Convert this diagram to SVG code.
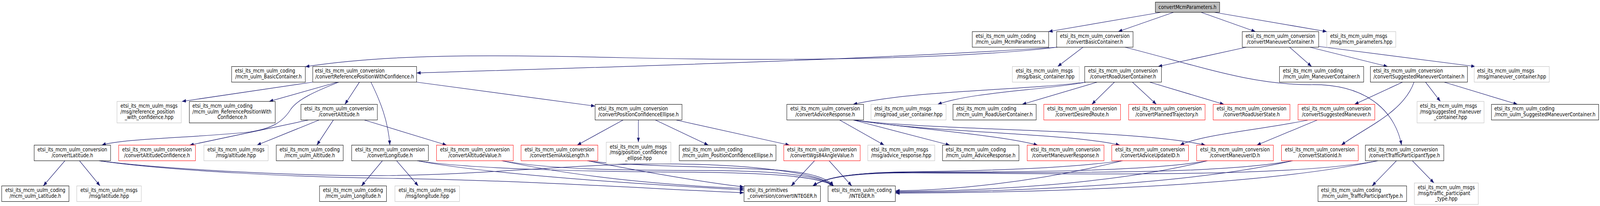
<svg xmlns="http://www.w3.org/2000/svg" width="4732" height="528" viewBox="0 0 4732 528" preserveAspectRatio="none">
<style>
svg{width:100vw;height:100vh}
rect{fill:#fff;stroke:#000;stroke-width:1.1}
.g rect{stroke:#bfbfbf}
.r rect{stroke:#ff0000}
.top rect{fill:#bfbfbf}
text{font-family:"DejaVu Sans","Liberation Sans",sans-serif;font-size:13.33px;fill:#000}
.m{text-anchor:middle}
.e path{fill:none;stroke:#191970;stroke-width:1.25;marker-end:url(#a)}
</style>
<defs>
<marker id="a" viewBox="0 0 12 9" refX="12" refY="4.5" markerWidth="12" markerHeight="9" orient="auto" markerUnits="userSpaceOnUse"><path d="M0,0L12,4.5L0,9z" fill="#191970"/></marker>
</defs>
<g id="connectors" class="e">
<path d="M3434,31.5 L3101,81"/>
<path d="M3471,31.5 L3307,81"/>
<path d="M3552,31.5 L3713,81"/>
<path d="M3591,31.5 L3924,81"/>
<path d="M3127,121 C2850,150 2350,158 1850,148 C1450,140 1150,138 903,171"/>
<path d="M3127,121 C2600,152 1800,172 1232,187"/>
<path d="M3203,121 L3128,170.5"/>
<path d="M3327,121 C3550,170 3700,218 3880,217 C4060,216 4130,300 4145,372"/>
<path d="M3686,121 L3425,170.5"/>
<path d="M3814,121 L3879,170.5"/>
<path d="M3874,121 L4104,170.5"/>
<path d="M3900,119 L4363,170.5"/>
<path d="M3212,210.5 C3020,232 2700,232 2523,267.5"/>
<path d="M3212,210.5 C3080,232 2880,235 2773,267.5"/>
<path d="M3245,210.5 L3023,267.5"/>
<path d="M3296,210.5 L3229,267.5"/>
<path d="M3349,210.5 L3420,267.5"/>
<path d="M3400,210.5 L3620,267.5"/>
<path d="M4148,210.5 L4006,267.5"/>
<path d="M4182,210.5 C4150,290 4030,330 3967,372"/>
<path d="M4216,210.5 L4260,260"/>
<path d="M4271,210.5 L4488,267.5"/>
<path d="M925,210.5 L538,260"/>
<path d="M998,210.5 L796,260"/>
<path d="M1002,210.5 C930,235 880,255 860,280 C835,315 800,330 740,338 C600,352 360,355 301,372"/>
<path d="M1063,210.5 L1020,267.5"/>
<path d="M1097,210.5 C1125,260 1148,310 1153,372"/>
<path d="M1232,210.5 L1760,272"/>
<path d="M913,307.5 L561,372"/>
<path d="M944,307.5 L760,372"/>
<path d="M986,307.5 L937,372"/>
<path d="M1077,307.5 L1321,372"/>
<path d="M1843,307.5 L1707,372"/>
<path d="M1888,307.5 L1888,364.5"/>
<path d="M1938,307.5 L2095,372"/>
<path d="M1999,307.5 L2335,372"/>
<path d="M2483,307.5 L2615,372"/>
<path d="M2523,307.5 L2809,372"/>
<path d="M2525,307.5 C2700,330 2950,345 3069,372"/>
<path d="M2525,307.5 C2750,340 3150,340 3312,372"/>
<path d="M2525,307.5 C2750,335 3350,330 3565,372"/>
<path d="M3869,307.5 C3750,330 3550,345 3490,372"/>
<path d="M3896,307.5 L3717,372"/>
<path d="M192,412 L128,476.5"/>
<path d="M235,412 L296,476.5"/>
<path d="M1131,412 L1069,476.5"/>
<path d="M1173,412 L1237,476.5"/>
<path d="M4130,412 L4058,476.5"/>
<path d="M4177,412 L4241,469"/>
<path d="M2409,412 L2340,476.5"/>
<path d="M2452,412 L2519,476.5"/>
<path d="M293,412 C500,435 900,452 1150,450 C1450,447 1700,420 1950,420 C2200,420 2420,440 2465,476.5"/>
<path d="M293,412 C500,438 900,455 1150,457 C1600,463 2000,488 2200,494"/>
<path d="M1234,412 C1400,435 1800,440 2000,441 C2250,442 2420,450 2465,476.5"/>
<path d="M1234,412 C1450,448 1900,472 2200,487"/>
<path d="M1484,412 C1650,438 1900,436 2100,437 C2300,438 2430,450 2465,476.5"/>
<path d="M1484,412 C1700,452 1950,474 2200,483"/>
<path d="M1737,412 C1850,426 2100,426 2300,436 C2400,442 2450,458 2465,476.5"/>
<path d="M1737,412 C1900,440 2100,470 2200,479"/>
<path d="M3320,412 C3150,432 2900,438 2700,440 C2520,442 2440,455 2404,476.5"/>
<path d="M3571,412 C3400,440 3000,441 2700,441 C2520,441 2440,455 2404,476.5"/>
<path d="M3823,412 C3600,448 3100,442 2700,442 C2520,442 2440,455 2404,476.5"/>
<path d="M4075,412 C3800,458 3100,444 2700,443 C2520,443 2440,455 2404,476.5"/>
<path d="M3320,412 C3050,470 2800,488 2649,489"/>
<path d="M3571,412 C3300,472 2900,490 2649,491"/>
<path d="M3823,412 C3500,476 2950,492 2649,493"/>
<path d="M4075,412 C3700,482 3000,494 2649,495"/>
</g>
<g id="convertMcmParameters" class="top"><rect x="3417" y="5.5" width="190" height="26"/><text class="m" x="3512" y="23.2">convertMcmParameters.h</text></g>
<g id="coding_McmParameters"><rect x="2875.5" y="81" width="226" height="40"/><text x="2885.5" y="97">etsi_its_mcm_uulm_coding</text><text class="m" x="2988.5" y="111.7">/mcm_uulm_McmParameters.h</text></g>
<g id="convertBasicContainer"><rect x="3125" y="81" width="226" height="40"/><text x="3134.9" y="97">etsi_its_mcm_uulm_conversion</text><text class="m" x="3238" y="111.7">/convertBasicContainer.h</text></g>
<g id="convertManeuverContainer"><rect x="3674" y="81" width="226" height="40"/><text x="3683.9" y="97">etsi_its_mcm_uulm_conversion</text><text class="m" x="3787" y="111.7">/convertManeuverContainer.h</text></g>
<g id="msgs_mcm_parameters" class="g"><rect x="3924" y="81" width="204" height="40"/><text x="3934" y="97">etsi_its_mcm_uulm_msgs</text><text class="m" x="4026" y="111.7">/msg/mcm_parameters.hpp</text></g>
<g id="coding_BasicContainer"><rect x="685" y="170.5" width="218" height="40"/><text x="695" y="186.5">etsi_its_mcm_uulm_coding</text><text class="m" x="794" y="201.2">/mcm_uulm_BasicContainer.h</text></g>
<g id="convertReferencePositionWithConfidence"><rect x="925" y="170.5" width="307" height="40"/><text x="931.5" y="186.5">etsi_its_mcm_uulm_conversion</text><text class="m" x="1078.5" y="201.2">/convertReferencePositionWithConfidence.h</text></g>
<g id="msgs_basic_container" class="g"><rect x="2994" y="170.5" width="198" height="40"/><text x="3004" y="186.5">etsi_its_mcm_uulm_msgs</text><text class="m" x="3093" y="201.2">/msg/basic_container.hpp</text></g>
<g id="convertRoadUserContainer"><rect x="3208" y="170.5" width="227" height="40"/><text x="3218.4" y="186.5">etsi_its_mcm_uulm_conversion</text><text class="m" x="3321.5" y="201.2">/convertRoadUserContainer.h</text></g>
<g id="coding_ManeuverContainer"><rect x="3784" y="170.5" width="249" height="40"/><text x="3794" y="186.5">etsi_its_mcm_uulm_coding</text><text class="m" x="3908.5" y="201.2">/mcm_uulm_ManeuverContainer.h</text></g>
<g id="convertSuggestedManeuverContainer"><rect x="4053" y="170.5" width="287" height="40"/><text x="4061.5" y="186.5">etsi_its_mcm_uulm_conversion</text><text class="m" x="4196.5" y="201.2">/convertSuggestedManeuverContainer.h</text></g>
<g id="msgs_maneuver_container" class="g"><rect x="4360" y="170.5" width="222" height="40"/><text x="4368.6" y="186.5">etsi_its_mcm_uulm_msgs</text><text class="m" x="4471" y="201.2">/msg/maneuver_container.hpp</text></g>
<g id="msgs_reference_position_with_confidence" class="g"><rect x="346" y="260" width="190" height="55"/><text x="356.5" y="276.2">etsi_its_mcm_uulm_msgs</text><text x="356.5" y="290.8">/msg/reference_position</text><text class="m" x="441" y="305.5">_with_confidence.hpp</text></g>
<g id="coding_ReferencePositionWithConfidence"><rect x="560" y="260" width="254" height="55"/><text x="569.1" y="276.2">etsi_its_mcm_uulm_coding</text><text x="569.1" y="290.8">/mcm_uulm_ReferencePositionWith</text><text class="m" x="687" y="305.5">Confidence.h</text></g>
<g id="convertAltitude"><rect x="890" y="267.5" width="226" height="40"/><text x="899.9" y="283.5">etsi_its_mcm_uulm_conversion</text><text class="m" x="1003" y="298.2">/convertAltitude.h</text></g>
<g id="convertPositionConfidenceEllipse"><rect x="1760" y="267.5" width="257" height="40"/><text x="1769.3" y="283.5">etsi_its_mcm_uulm_conversion</text><text class="m" x="1888.5" y="298.2">/convertPositionConfidenceEllipse.h</text></g>
<g id="convertAdviceResponse"><rect x="2327" y="267.5" width="227" height="40"/><text x="2337.4" y="283.5">etsi_its_mcm_uulm_conversion</text><text class="m" x="2440.5" y="298.2">/convertAdviceResponse.h</text></g>
<g id="msgs_road_user_container" class="g"><rect x="2576" y="267.5" width="222" height="40"/><text x="2585.5" y="283.5">etsi_its_mcm_uulm_msgs</text><text class="m" x="2687" y="298.2">/msg/road_user_container.hpp</text></g>
<g id="coding_RoadUserContainer"><rect x="2818.5" y="267.5" width="246" height="40"/><text x="2828" y="283.5">etsi_its_mcm_uulm_coding</text><text class="m" x="2941.5" y="298.2">/mcm_uulm_RoadUserContainer.h</text></g>
<g id="convertDesiredRoute" class="r"><rect x="3087" y="267.5" width="227" height="40"/><text x="3097.4" y="283.5">etsi_its_mcm_uulm_conversion</text><text class="m" x="3200.5" y="298.2">/convertDesiredRoute.h</text></g>
<g id="convertPlannedTrajectory" class="r"><rect x="3338" y="267.5" width="226" height="40"/><text x="3347.9" y="283.5">etsi_its_mcm_uulm_conversion</text><text class="m" x="3451" y="298.2">/convertPlannedTrajectory.h</text></g>
<g id="convertRoadUserState" class="r"><rect x="3588" y="267.5" width="227" height="40"/><text x="3598.4" y="283.5">etsi_its_mcm_uulm_conversion</text><text class="m" x="3701.5" y="298.2">/convertRoadUserState.h</text></g>
<g id="convertSuggestedManeuver" class="r"><rect x="3839" y="267.5" width="227" height="40"/><text x="3849.4" y="283.5">etsi_its_mcm_uulm_conversion</text><text class="m" x="3952.5" y="298.2">/convertSuggestedManeuver.h</text></g>
<g id="msgs_suggested_maneuver_container" class="g"><rect x="4191" y="260" width="198" height="55"/><text x="4199.5" y="276.2">etsi_its_mcm_uulm_msgs</text><text x="4199.5" y="290.8">/msg/suggested_maneuver</text><text class="m" x="4290" y="305.5">_container.hpp</text></g>
<g id="coding_SuggestedManeuverContainer"><rect x="4411" y="267.5" width="317" height="40"/><text x="4419.5" y="283.5">etsi_its_mcm_uulm_coding</text><text class="m" x="4569.5" y="298.2">/mcm_uulm_SuggestedManeuverContainer.h</text></g>
<g id="convertLatitude"><rect x="101" y="372" width="226" height="40"/><text x="110.9" y="388">etsi_its_mcm_uulm_conversion</text><text class="m" x="214" y="402.7">/convertLatitude.h</text></g>
<g id="convertAltitudeConfidence" class="r"><rect x="351" y="372" width="227" height="40"/><text x="361.4" y="388">etsi_its_mcm_uulm_conversion</text><text class="m" x="464.5" y="402.7">/convertAltitudeConfidence.h</text></g>
<g id="msgs_altitude" class="g"><rect x="603" y="372" width="190" height="40"/><text x="613.5" y="388">etsi_its_mcm_uulm_msgs</text><text class="m" x="698" y="402.7">/msg/altitude.hpp</text></g>
<g id="coding_Altitude"><rect x="817" y="372" width="198" height="40"/><text x="827" y="388">etsi_its_mcm_uulm_coding</text><text class="m" x="916" y="402.7">/mcm_uulm_Altitude.h</text></g>
<g id="convertLongitude"><rect x="1040" y="372" width="227" height="40"/><text x="1050.4" y="388">etsi_its_mcm_uulm_conversion</text><text class="m" x="1153.5" y="402.7">/convertLongitude.h</text></g>
<g id="convertAltitudeValue" class="r"><rect x="1291" y="372" width="227" height="40"/><text x="1301.4" y="388">etsi_its_mcm_uulm_conversion</text><text class="m" x="1404.5" y="402.7">/convertAltitudeValue.h</text></g>
<g id="convertSemiAxisLength" class="r"><rect x="1541" y="372" width="227" height="40"/><text x="1551.4" y="388">etsi_its_mcm_uulm_conversion</text><text class="m" x="1654.5" y="402.7">/convertSemiAxisLength.h</text></g>
<g id="msgs_position_confidence_ellipse" class="g"><rect x="1793" y="364.5" width="191" height="55"/><text x="1803.5" y="380.7">etsi_its_mcm_uulm_msgs</text><text x="1803.5" y="395.3">/msg/position_confidence</text><text class="m" x="1888.5" y="410">_ellipse.hpp</text></g>
<g id="coding_PositionConfidenceEllipse"><rect x="2009" y="372" width="286" height="40"/><text x="2018" y="388">etsi_its_mcm_uulm_coding</text><text class="m" x="2152" y="402.7">/mcm_uulm_PositionConfidenceEllipse.h</text></g>
<g id="convertWgs84AngleValue" class="r"><rect x="2318" y="372" width="226" height="40"/><text x="2327.9" y="388">etsi_its_mcm_uulm_conversion</text><text class="m" x="2431" y="402.7">/convertWgs84AngleValue.h</text></g>
<g id="msgs_advice_response" class="g"><rect x="2566.5" y="372" width="198" height="40"/><text x="2576.5" y="388">etsi_its_mcm_uulm_msgs</text><text class="m" x="2665.5" y="402.7">/msg/advice_response.hpp</text></g>
<g id="coding_AdviceResponse"><rect x="2787.5" y="372" width="226" height="40"/><text x="2797" y="388">etsi_its_mcm_uulm_coding</text><text class="m" x="2900.5" y="402.7">/mcm_uulm_AdviceResponse.h</text></g>
<g id="convertManeuverResponse" class="r"><rect x="3038" y="372" width="227" height="40"/><text x="3048.4" y="388">etsi_its_mcm_uulm_conversion</text><text class="m" x="3151.5" y="402.7">/convertManeuverResponse.h</text></g>
<g id="convertAdviceUpdateID" class="r"><rect x="3288" y="372" width="227" height="40"/><text x="3298.4" y="388">etsi_its_mcm_uulm_conversion</text><text class="m" x="3401.5" y="402.7">/convertAdviceUpdateID.h</text></g>
<g id="convertManeuverID" class="r"><rect x="3539" y="372" width="227" height="40"/><text x="3549.4" y="388">etsi_its_mcm_uulm_conversion</text><text class="m" x="3652.5" y="402.7">/convertManeuverID.h</text></g>
<g id="convertStationId" class="r"><rect x="3790" y="372" width="227" height="40"/><text x="3800.4" y="388">etsi_its_mcm_uulm_conversion</text><text class="m" x="3903.5" y="402.7">/convertStationId.h</text></g>
<g id="convertTrafficParticipantType"><rect x="4038" y="372" width="232" height="40"/><text x="4046.5" y="388">etsi_its_mcm_uulm_conversion</text><text class="m" x="4154" y="402.7">/convertTrafficParticipantType.h</text></g>
<g id="coding_Latitude"><rect x="5" y="476.5" width="199" height="40"/><text x="15.5" y="492.5">etsi_its_mcm_uulm_coding</text><text class="m" x="104.5" y="507.2">/mcm_uulm_Latitude.h</text></g>
<g id="msgs_latitude" class="g"><rect x="227" y="476.5" width="191" height="40"/><text x="238" y="492.5">etsi_its_mcm_uulm_msgs</text><text class="m" x="322.5" y="507.2">/msg/latitude.hpp</text></g>
<g id="coding_Longitude"><rect x="945" y="476.5" width="198" height="40"/><text x="955" y="492.5">etsi_its_mcm_uulm_coding</text><text class="m" x="1044" y="507.2">/mcm_uulm_Longitude.h</text></g>
<g id="msgs_longitude" class="g"><rect x="1168" y="476.5" width="191" height="40"/><text x="1179" y="492.5">etsi_its_mcm_uulm_msgs</text><text class="m" x="1263.5" y="507.2">/msg/longitude.hpp</text></g>
<g id="primitives_convertINTEGER"><rect x="2200.5" y="476.5" width="226" height="40"/><text x="2210.5" y="492.5">etsi_its_primitives</text><text class="m" x="2313.5" y="507.2">_conversion/convertINTEGER.h</text></g>
<g id="coding_INTEGER"><rect x="2449" y="476.5" width="199" height="40"/><text x="2459.5" y="492.5">etsi_its_mcm_uulm_coding</text><text class="m" x="2548.5" y="507.2">/INTEGER.h</text></g>
<g id="coding_TrafficParticipantType"><rect x="3898" y="476.5" width="262" height="40"/><text x="3907" y="492.5">etsi_its_mcm_uulm_coding</text><text class="m" x="4029" y="507.2">/mcm_uulm_TrafficParticipantType.h</text></g>
<g id="msgs_traffic_participant_type" class="g"><rect x="4183" y="469" width="189" height="55"/><text x="4193" y="485.2">etsi_its_mcm_uulm_msgs</text><text x="4193" y="499.8">/msg/traffic_participant</text><text class="m" x="4277.5" y="514.5">_type.hpp</text></g>
</svg>
